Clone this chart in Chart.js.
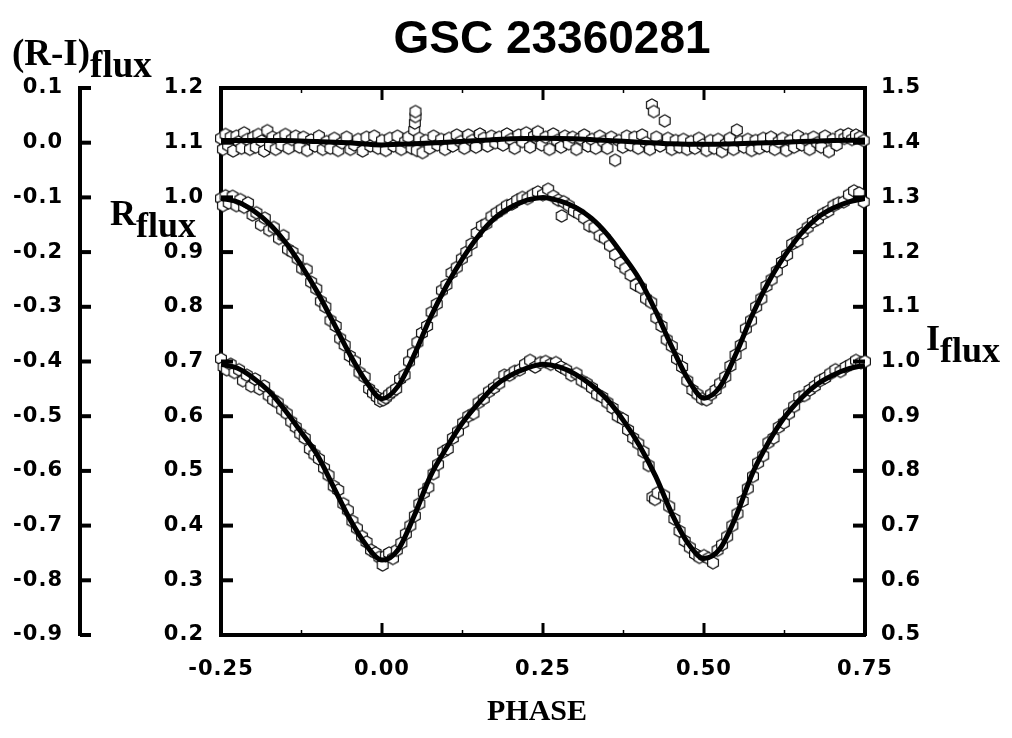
<!DOCTYPE html>
<html>
<head>
<meta charset="utf-8">
<title>GSC 23360281</title>
<script src="https://cdn.jsdelivr.net/npm/chart.js@4.4.1/dist/chart.umd.min.js"></script>
<style>
  html, body { margin: 0; padding: 0; background: #fff; }
  #wrap { position: relative; width: 1012px; height: 738px; overflow: hidden; }
  #chart { position: absolute; left: 0; top: 0; }
  .lab { position: absolute; white-space: nowrap; color: #000; }
  .serif { font-family: 'Liberation Serif', 'Times New Roman', serif; font-weight: bold; font-size: 36px; line-height: 36px; }
  .serif .sub { position: relative; top: 12px; }
  #title { left: 552px; top: 14px; transform: translateX(-50%); font-family: 'Liberation Sans', Arial, sans-serif; font-weight: bold; font-size: 46px; line-height: 46px; }
  #xtitle { left: 537px; top: 695px; transform: translateX(-50%); font-size: 30px; line-height: 30px; }
</style>
</head>
<body>
<div id="wrap">
  <canvas id="chart" width="1012" height="738"></canvas>
  <div class="lab" id="title">GSC 23360281</div>
  <div class="lab serif" style="left:12px; top:35px; font-size:37px">(R-I)<span class="sub">flux</span></div>
  <div class="lab serif" style="left:110px; top:195px">R<span class="sub">flux</span></div>
  <div class="lab serif" style="left:926px; top:320px">I<span class="sub">flux</span></div>
  <div class="lab serif" id="xtitle">PHASE</div>
</div>
<script>
// fitted light curves
const fitPhase = [-0.25,-0.225,-0.2,-0.175,-0.15,-0.125,-0.1,-0.075,-0.05,-0.025,
    0,0.025,0.05,0.075,0.1,0.125,0.15,0.175,0.2,0.225,
    0.25,0.275,0.3,0.325,0.35,0.375,0.4,0.425,0.45,0.475,
    0.5,0.525,0.55,0.575,0.6,0.625,0.65,0.675,0.7,0.725,0.75];
const rFitFlux = [0.998,0.992,0.976,0.952,0.918,0.875,0.826,0.770,0.713,0.664,
    0.632,0.655,0.712,0.780,0.838,0.888,0.930,0.962,0.982,0.995,
    1.000,0.994,0.982,0.962,0.932,0.893,0.850,0.792,0.727,0.668,
    0.633,0.654,0.715,0.785,0.845,0.893,0.933,0.962,0.980,0.992,0.998];
const iFitFlux = [0.995,0.988,0.970,0.945,0.910,0.870,0.828,0.770,0.712,0.665,
    0.637,0.656,0.718,0.790,0.842,0.888,0.924,0.955,0.975,0.988,
    0.995,0.990,0.977,0.957,0.930,0.892,0.846,0.790,0.722,0.668,
    0.640,0.658,0.718,0.795,0.852,0.898,0.932,0.958,0.975,0.987,0.993];
const riFitPhase = [-0.25,-0.2,-0.15,-0.1,-0.05,0,0.05,0.1,0.15,0.2,0.25,
    0.3,0.35,0.4,0.45,0.5,0.55,0.6,0.65,0.7,0.75];
const riFitFlux = [0.004,0.004,0.004,0.002,0.000,-0.004,-0.002,0.001,0.004,0.007,0.008,
    0.007,0.004,0.001,-0.002,-0.003,-0.002,0.000,0.002,0.004,0.005];

// observations, R band
const rObsPhase = [-0.250,-0.247,-0.243,-0.238,-0.232,-0.226,-0.220,-0.214,-0.208,-0.201,
    -0.195,-0.188,-0.182,-0.175,-0.168,-0.160,-0.153,-0.146,-0.139,-0.131,
    -0.124,-0.117,-0.110,-0.102,-0.095,-0.088,-0.080,-0.072,-0.065,-0.058,
    -0.050,-0.042,-0.035,-0.027,-0.020,-0.014,-0.008,-0.003,0.002,0.006,
    0.011,0.016,0.022,0.028,0.035,0.042,0.048,0.055,0.062,0.070,
    0.077,0.085,0.093,0.100,0.108,0.116,0.124,0.131,0.139,0.147,
    0.155,0.162,0.170,0.178,0.186,0.194,0.202,0.210,0.218,0.226,
    0.234,0.242,0.250,0.258,0.266,0.274,0.279,0.282,0.290,0.298,
    0.306,0.314,0.322,0.330,0.338,0.346,0.354,0.362,0.370,0.378,
    0.386,0.394,0.402,0.410,0.418,0.426,0.434,0.442,0.450,0.458,
    0.466,0.474,0.482,0.490,0.497,0.504,0.511,0.518,0.525,0.533,
    0.541,0.549,0.557,0.565,0.573,0.581,0.589,0.597,0.605,0.613,
    0.621,0.629,0.637,0.645,0.653,0.661,0.669,0.677,0.685,0.693,
    0.701,0.709,0.717,0.725,0.733,0.741,0.748];
const rObsFlux = [0.998,0.985,1.003,0.990,1.002,0.985,0.996,0.982,0.990,0.968,
    0.972,0.950,0.962,0.940,0.945,0.925,0.930,0.905,0.900,0.888,
    0.870,0.868,0.845,0.833,0.810,0.800,0.775,0.765,0.742,0.730,
    0.710,0.700,0.680,0.672,0.650,0.642,0.635,0.628,0.630,0.634,
    0.640,0.645,0.650,0.668,0.675,0.700,0.715,0.735,0.752,0.765,
    0.790,0.805,0.830,0.840,0.862,0.872,0.888,0.900,0.915,0.935,
    0.948,0.952,0.965,0.972,0.978,0.985,0.988,0.995,1.000,0.998,
    1.005,1.010,1.005,1.015,1.002,0.995,0.966,0.992,0.985,0.975,
    0.970,0.962,0.948,0.945,0.930,0.925,0.912,0.895,0.880,0.870,
    0.858,0.840,0.835,0.815,0.808,0.780,0.765,0.740,0.728,0.705,
    0.690,0.665,0.648,0.640,0.632,0.630,0.640,0.648,0.660,0.672,
    0.692,0.712,0.730,0.760,0.775,0.800,0.815,0.838,0.850,0.865,
    0.882,0.895,0.915,0.920,0.935,0.945,0.955,0.960,0.970,0.975,
    0.985,0.990,0.992,1.005,1.012,1.008,0.992];

// observations, I band
const iObsPhase = [-0.250,-0.246,-0.241,-0.235,-0.229,-0.222,-0.216,-0.210,-0.203,-0.197,
    -0.190,-0.183,-0.176,-0.169,-0.162,-0.155,-0.148,-0.141,-0.134,-0.127,
    -0.120,-0.112,-0.105,-0.098,-0.090,-0.083,-0.075,-0.068,-0.060,-0.053,
    -0.046,-0.039,-0.031,-0.024,-0.017,-0.010,-0.004,0.001,0.006,0.011,
    0.017,0.023,0.030,0.037,0.044,0.051,0.058,0.065,0.072,0.080,
    0.087,0.095,0.102,0.110,0.118,0.126,0.134,0.142,0.150,0.158,
    0.166,0.174,0.182,0.190,0.198,0.206,0.214,0.222,0.230,0.238,
    0.246,0.254,0.262,0.270,0.278,0.286,0.294,0.302,0.310,0.318,
    0.326,0.334,0.342,0.350,0.358,0.366,0.374,0.382,0.390,0.398,
    0.406,0.414,0.420,0.424,0.428,0.438,0.446,0.454,0.462,0.470,
    0.478,0.486,0.493,0.500,0.507,0.514,0.521,0.528,0.536,0.544,
    0.552,0.560,0.568,0.576,0.584,0.592,0.600,0.608,0.616,0.624,
    0.632,0.640,0.648,0.656,0.664,0.672,0.680,0.688,0.696,0.704,
    0.712,0.720,0.728,0.736,0.744,0.750];
const iObsFlux = [1.005,0.990,0.985,0.995,0.980,0.985,0.965,0.975,0.955,0.968,
    0.950,0.955,0.938,0.930,0.925,0.912,0.905,0.890,0.880,0.868,
    0.860,0.840,0.830,0.822,0.805,0.792,0.772,0.765,0.740,0.728,
    0.708,0.695,0.680,0.670,0.655,0.650,0.642,0.628,0.645,0.650,
    0.640,0.655,0.668,0.685,0.700,0.718,0.740,0.760,0.770,0.795,
    0.812,0.835,0.840,0.860,0.872,0.888,0.900,0.905,0.925,0.932,
    0.945,0.952,0.960,0.975,0.975,0.982,0.985,0.995,1.002,0.990,
    0.998,1.000,0.995,0.998,0.990,0.985,0.975,0.978,0.965,0.960,
    0.952,0.940,0.935,0.925,0.915,0.900,0.895,0.875,0.860,0.850,
    0.835,0.810,0.752,0.748,0.760,0.755,0.735,0.712,0.690,0.672,
    0.660,0.648,0.642,0.645,0.640,0.632,0.655,0.665,0.680,0.700,
    0.722,0.745,0.768,0.790,0.815,0.828,0.852,0.860,0.880,0.888,
    0.905,0.918,0.935,0.938,0.948,0.955,0.965,0.970,0.978,0.985,
    0.982,0.990,0.995,1.002,0.998,1.000];

// observations, R-I colour
const riObsPhase = [-0.250,-0.247,-0.243,-0.239,-0.235,-0.231,-0.226,-0.222,-0.218,-0.214,
    -0.209,-0.205,-0.200,-0.196,-0.192,-0.187,-0.183,-0.178,-0.174,-0.170,
    -0.165,-0.160,-0.156,-0.150,-0.145,-0.140,-0.134,-0.128,-0.122,-0.116,
    -0.110,-0.104,-0.098,-0.092,-0.086,-0.080,-0.074,-0.068,-0.062,-0.055,
    -0.049,-0.043,-0.037,-0.030,-0.024,-0.018,-0.012,-0.006,0.000,0.006,
    0.012,0.018,0.024,0.030,0.036,0.041,0.046,0.050,0.051,0.052,
    0.052,0.054,0.058,0.063,0.068,0.074,0.080,0.086,0.092,0.098,
    0.104,0.110,0.116,0.122,0.128,0.134,0.140,0.146,0.152,0.158,
    0.164,0.170,0.176,0.182,0.188,0.194,0.200,0.206,0.212,0.218,
    0.224,0.230,0.236,0.242,0.248,0.254,0.260,0.266,0.272,0.278,
    0.284,0.290,0.296,0.302,0.308,0.314,0.320,0.326,0.332,0.338,
    0.344,0.350,0.356,0.362,0.368,0.374,0.380,0.386,0.392,0.398,
    0.404,0.410,0.416,0.419,0.422,0.426,0.432,0.439,0.444,0.450,
    0.456,0.462,0.468,0.474,0.480,0.486,0.492,0.498,0.504,0.510,
    0.516,0.522,0.528,0.534,0.540,0.546,0.551,0.556,0.562,0.568,
    0.574,0.580,0.586,0.592,0.598,0.604,0.610,0.616,0.622,0.628,
    0.634,0.640,0.646,0.652,0.658,0.664,0.670,0.676,0.682,0.688,
    0.694,0.700,0.706,0.712,0.718,0.724,0.730,0.736,0.742,0.748];
const riObsFlux = [0.008,-0.012,0.015,-0.005,0.010,-0.015,0.012,0.002,-0.010,0.018,
    0.006,-0.012,0.010,-0.008,0.015,0.003,-0.015,0.022,-0.006,0.010,
    -0.012,0.008,-0.004,0.015,-0.010,0.006,0.012,-0.008,0.010,-0.014,
    0.005,-0.006,0.012,-0.012,0.002,-0.010,0.008,-0.014,0.000,0.010,
    -0.012,-0.004,0.006,-0.015,0.010,-0.006,0.012,-0.010,0.004,-0.014,
    0.008,-0.006,0.012,-0.012,0.002,0.010,-0.010,0.023,0.036,0.048,
    0.057,-0.014,0.008,-0.018,0.004,-0.010,0.012,-0.004,0.006,-0.012,
    0.008,-0.006,0.014,0.002,-0.010,0.014,0.004,-0.008,0.016,0.008,
    -0.006,0.012,0.000,0.010,-0.004,0.016,0.006,-0.010,0.014,0.002,
    0.018,-0.008,0.012,0.020,-0.004,0.010,-0.012,0.016,0.004,-0.008,
    0.012,-0.002,0.010,-0.012,0.008,0.014,-0.006,0.006,-0.010,0.012,
    0.002,-0.010,0.010,-0.032,0.004,-0.008,0.012,-0.004,0.010,-0.010,
    0.014,0.000,-0.012,0.069,0.057,0.010,-0.006,0.040,0.008,-0.012,
    0.004,-0.008,0.006,-0.012,0.002,-0.010,0.008,-0.004,-0.014,0.004,
    -0.010,0.006,-0.016,-0.002,0.008,-0.012,0.023,0.002,-0.008,0.006,
    -0.014,0.004,-0.010,0.008,-0.006,0.010,-0.012,0.002,0.008,-0.014,
    0.004,-0.008,0.012,-0.004,0.006,-0.012,0.010,0.000,-0.008,0.012,
    -0.016,0.006,-0.004,0.014,0.008,0.016,0.006,0.014,0.010,0.004];

const pts = (xs, ys) => xs.map((x, i) => ({ x: x, y: ys[i] }));

// open hexagon used for the observed points
function hexagonMarker(r) {
    const size = 16;
    const c = document.createElement('canvas');
    c.width = size;
    c.height = size;
    const g = c.getContext('2d');
    g.beginPath();
    for (let k = 0; k < 6; k++) {
        const a = Math.PI / 2 + k * Math.PI / 3;
        const px = size / 2 + r * Math.cos(a);
        const py = size / 2 + r * Math.sin(a);
        if (k === 0) g.moveTo(px, py); else g.lineTo(px, py);
    }
    g.closePath();
    g.fillStyle = '#fff';
    g.fill();
    g.lineWidth = 1.1;
    g.strokeStyle = '#000';
    g.stroke();
    return c;
}
const hex = hexagonMarker(6.2);

const tickFont = { family: "'DejaVu Sans', sans-serif", size: 21, weight: 'bold' };
const fmt = digits => v => (Math.abs(v) < 1e-9 ? 0 : v).toFixed(digits);

const obsSet = (data, axis) => ({
    type: 'scatter', data: data, yAxisID: axis, order: 2,
    pointStyle: hex, pointRadius: 6, showLine: false, clip: false
});
const fitSet = (data, axis) => ({
    type: 'line', data: data, yAxisID: axis, order: 1,
    borderColor: '#000', borderWidth: 5, pointRadius: 0, fill: false,
    cubicInterpolationMode: 'monotone'
});

// inward tick marks on the frame and the outer colour axis
const frameTicks = {
    id: 'frameTicks',
    beforeDraw(chart) {
        chart.ctx.letterSpacing = '1px';
    },
    afterDraw(chart) {
        const ctx = chart.ctx;
        const { left, right, top, bottom } = chart.chartArea;
        const { x, yR, yI, yRI } = chart.scales;
        ctx.save();
        ctx.strokeStyle = '#000';
        const seg = (x1, y1, x2, y2, w) => {
            ctx.lineWidth = w;
            ctx.beginPath();
            ctx.moveTo(x1, y1);
            ctx.lineTo(x2, y2);
            ctx.stroke();
        };
        seg(left - 2, top, right + 2, top, 4);
        x.ticks.forEach((t, i) => {
            const px = x.getPixelForValue(t.value);
            seg(px, bottom, px, bottom - 12, 3);
            seg(px, top, px, top + 12, 3);
            if (i < x.ticks.length - 1) {
                const mx = x.getPixelForValue((t.value + x.ticks[i + 1].value) / 2);
                seg(mx, bottom, mx, bottom - 5, 1.5);
                seg(mx, top, mx, top + 5, 1.5);
            }
        });
        yR.ticks.forEach(t => {
            const py = yR.getPixelForValue(t.value);
            seg(left, py, left + 12, py, 4);
        });
        yI.ticks.forEach(t => {
            const py = yI.getPixelForValue(t.value);
            seg(right, py, right - 12, py, 4);
        });
        yRI.ticks.forEach(t => {
            const py = yRI.getPixelForValue(t.value);
            seg(yRI.right, py, yRI.right + 11, py, 4);
        });
        ctx.restore();
        ctx.letterSpacing = '0px';
    }
};

const axisBorder = { display: true, width: 4, color: '#000' };
const noGrid = { display: false, drawTicks: false };

new Chart(document.getElementById('chart'), {
    type: 'scatter',
    data: {
        datasets: [
            fitSet(pts(riFitPhase, riFitFlux), 'yRI'),
            fitSet(pts(fitPhase, rFitFlux), 'yR'),
            fitSet(pts(fitPhase, iFitFlux), 'yI'),
            obsSet(pts(riObsPhase, riObsFlux), 'yRI'),
            obsSet(pts(rObsPhase, rObsFlux), 'yR'),
            obsSet(pts(iObsPhase, iObsFlux), 'yI')
        ]
    },
    options: {
        responsive: false,
        animation: false,
        events: [],
        layout: { padding: { top: 88, left: 0, right: 0, bottom: 0 } },
        plugins: { legend: { display: false }, tooltip: { enabled: false } },
        scales: {
            x: {
                type: 'linear', position: 'bottom', min: -0.25, max: 0.75,
                grid: noGrid, border: axisBorder,
                ticks: { stepSize: 0.25, padding: 22, color: '#000', font: tickFont, maxRotation: 0, autoSkip: false, callback: fmt(2) },
                afterFit: s => { s.height = 103; }
            },
            yRI: {
                type: 'linear', position: 'left', weight: 2, min: -0.9, max: 0.1,
                grid: noGrid, border: axisBorder,
                ticks: { stepSize: 0.1, padding: 17, color: '#000', font: tickFont, autoSkip: false, callback: fmt(1) },
                afterFit: s => { s.width = 80; }
            },
            yR: {
                type: 'linear', position: 'left', weight: 1, min: 0.2, max: 1.2,
                grid: noGrid, border: axisBorder,
                ticks: { stepSize: 0.1, padding: 17, color: '#000', font: tickFont, autoSkip: false, callback: fmt(1) },
                afterFit: s => { s.width = 141; }
            },
            yI: {
                type: 'linear', position: 'right', min: 0.5, max: 1.5,
                grid: noGrid, border: axisBorder,
                ticks: { stepSize: 0.1, padding: 16, color: '#000', font: tickFont, autoSkip: false, callback: fmt(1) },
                afterFit: s => { s.width = 147; }
            }
        }
    },
    plugins: [frameTicks]
});
</script>
</body>
</html>
